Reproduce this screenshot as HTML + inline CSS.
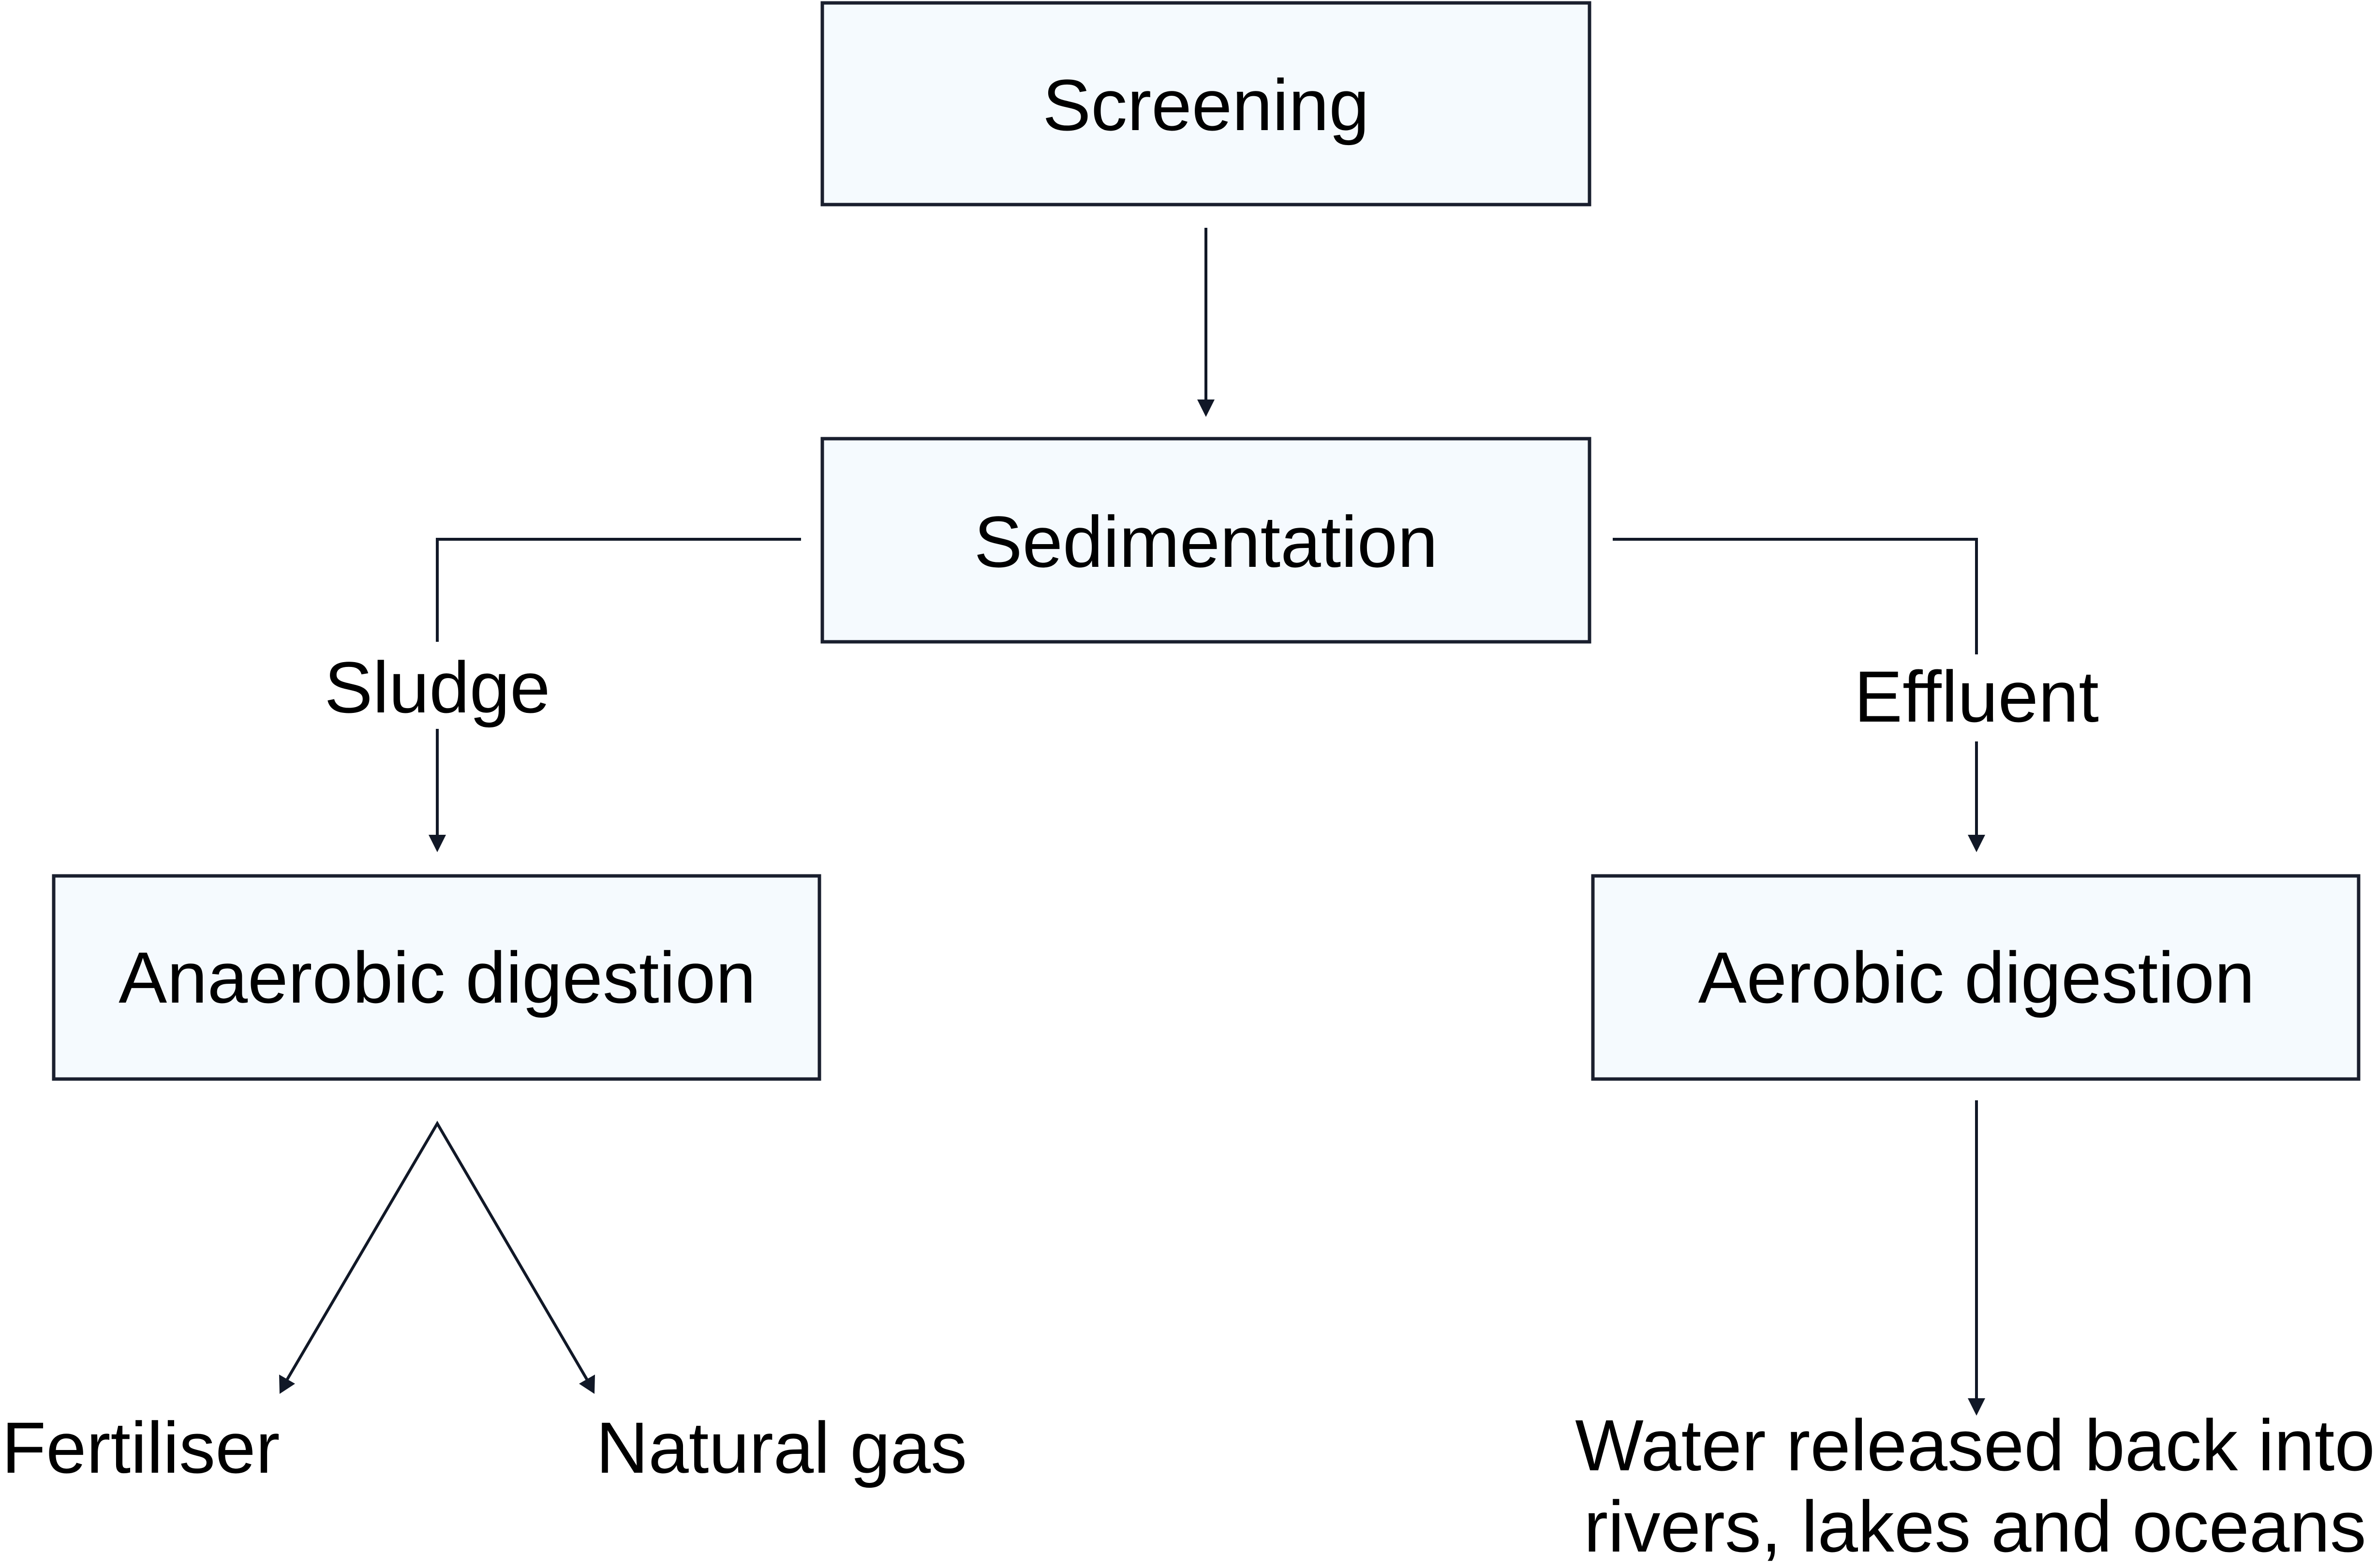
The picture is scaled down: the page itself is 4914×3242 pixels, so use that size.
<!DOCTYPE html>
<html><head><meta charset="utf-8"><style>
html,body{margin:0;padding:0;background:#fff;}
svg{display:block;}
text{font-family:"Liberation Sans",sans-serif;font-size:150px;fill:#000;text-anchor:middle;}
</style></head><body>
<svg width="4914" height="3242" viewBox="0 0 4914 3242" xmlns="http://www.w3.org/2000/svg">
<g fill="#f5fafe" stroke="#1a1f2e" stroke-width="7">
<rect x="1700" y="6" width="1586" height="417"/>
<rect x="1700" y="907" width="1586" height="420"/>
<rect x="111" y="1811" width="1583" height="420"/>
<rect x="3293" y="1811" width="1583" height="420"/>
</g>
<g fill="none" stroke="#111827" stroke-width="6">
<line x1="2493" y1="471" x2="2493" y2="830"/>
<polyline points="1656,1115 904,1115 904,1327"/>
<line x1="904" y1="1507" x2="904" y2="1730"/>
<polyline points="3334,1115 4086,1115 4086,1353"/>
<line x1="4086" y1="1533" x2="4086" y2="1730"/>
<polyline points="592,2855 904,2323 1215,2855"/>
<line x1="4086" y1="2275" x2="4086" y2="2895"/>
</g>
<g fill="#111827">
<path d="M2475,826 L2511,826 L2493,862 Z"/>
<path d="M886,1726 L922,1726 L904,1762 Z"/>
<path d="M4068,1726 L4104,1726 L4086,1762 Z"/>
<path d="M4068,2891 L4104,2891 L4086,2927 Z"/>
<path d="M578,2882 L577,2842 L610,2861 Z"/>
<path d="M1229,2882 L1197,2861 L1230,2842 Z"/>
</g>
<text x="2493" y="269">Screening</text>
<text x="2493" y="1172">Sedimentation</text>
<text x="904" y="1473">Sludge</text>
<text x="4086" y="1492">Effluent</text>
<text x="904" y="2073">Anaerobic digestion</text>
<text x="4086" y="2073">Aerobic digestion</text>
<text x="291" y="3045">Fertiliser</text>
<text x="1232" y="3045" style="text-anchor:start">Natural gas</text>
<text x="4083" y="3040">Water released back into</text>
<text x="4083" y="3208">rivers, lakes and oceans</text>
</svg>
</body></html>
